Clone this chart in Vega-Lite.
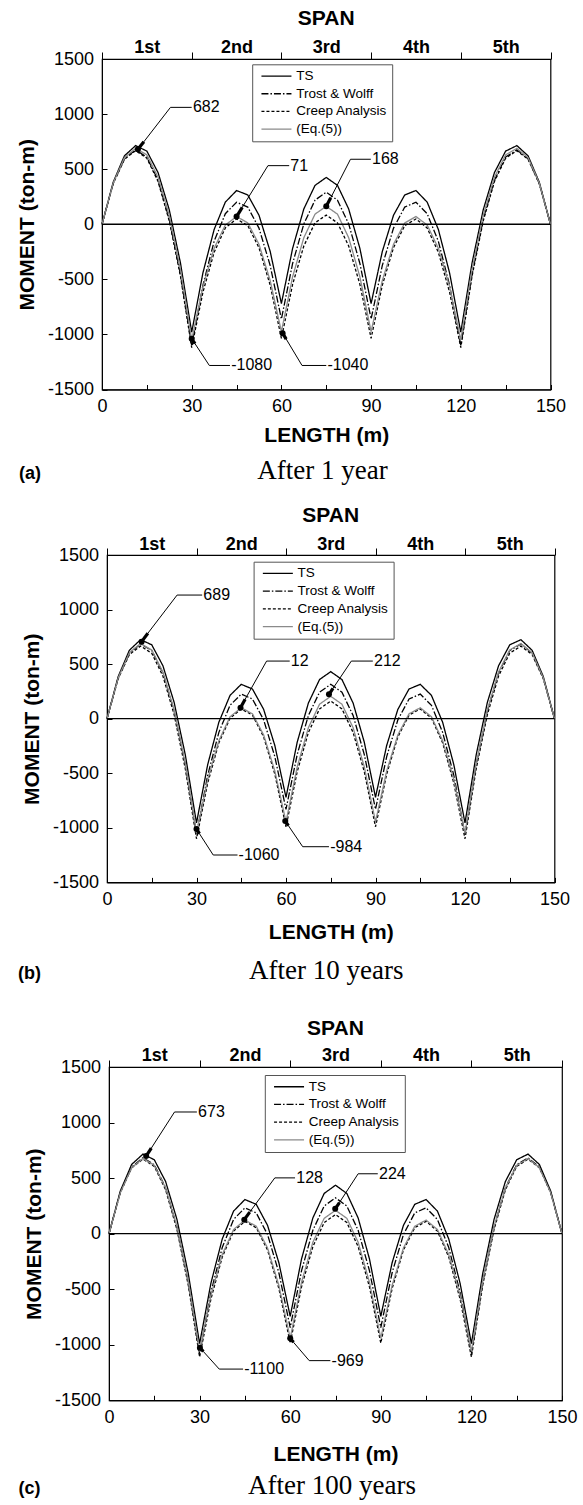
{
"$schema":"https://vega.github.io/schema/vega-lite/v6.json",
"padding":{"left":14,"top":7,"right":0,"bottom":0},
"background":"white",
"spacing":0,
"resolve":{"scale":{"color":"independent","strokeDash":"independent"},"legend":{"color":"independent","strokeDash":"independent"}},
"config":{
 "view":{"stroke":"black","strokeWidth":1.2},
 "axis":{"labelFont":"Liberation Sans","titleFont":"Liberation Sans","labelFontSize":18,"titleFontSize":21,"titleFontWeight":"bold","labelColor":"black","titleColor":"black","domainColor":"black","tickColor":"black","grid":false,"labelFlush":false,"labelOverlap":false,"domainWidth":1,"tickWidth":1},
 "title":{"font":"Liberation Sans","fontSize":21,"fontWeight":"bold","color":"black","anchor":"middle","orient":"top"},
 "legend":{"labelFont":"Liberation Sans","labelColor":"black"},
 "text":{"font":"Liberation Sans"}
},
"datasets":{
"a":[{"x":0,"TS":0,"TW":0,"CA":0,"EQ":0},{"x":3.75,"TS":382,"TW":370,"CA":368,"EQ":374},{"x":7.5,"TS":621,"TW":595,"CA":590,"EQ":604},{"x":11.25,"TS":714,"TW":675,"CA":668,"EQ":689},{"x":15,"TS":664,"TW":610,"CA":600,"EQ":630},{"x":18.75,"TS":469,"TW":400,"CA":388,"EQ":427},{"x":22.5,"TS":131,"TW":45,"CA":30,"EQ":79},{"x":26.25,"TS":-353,"TW":-455,"CA":-473,"EQ":-413},{"x":30,"TS":-980,"TW":-1100,"CA":-1120,"EQ":-1050},{"x":33.75,"TS":-442,"TW":-554,"CA":-617,"EQ":-567},{"x":37.5,"TS":-48,"TW":-155,"CA":-255,"EQ":-219},{"x":41.25,"TS":201,"TW":96,"CA":-33,"EQ":-7},{"x":45,"TS":306,"TW":200,"CA":48,"EQ":70},{"x":48.75,"TS":266,"TW":156,"CA":-12,"EQ":12},{"x":52.5,"TS":82,"TW":-35,"CA":-212,"EQ":-182},{"x":56.25,"TS":-247,"TW":-374,"CA":-553,"EQ":-511},{"x":60,"TS":-720,"TW":-860,"CA":-1035,"EQ":-975},{"x":63.75,"TS":-219,"TW":-356,"CA":-546,"EQ":-477},{"x":67.5,"TS":139,"TW":3,"CA":-197,"EQ":-122},{"x":71.25,"TS":353,"TW":219,"CA":13,"EQ":92},{"x":75,"TS":425,"TW":291,"CA":83,"EQ":163},{"x":78.75,"TS":353,"TW":219,"CA":13,"EQ":92},{"x":82.5,"TS":139,"TW":3,"CA":-197,"EQ":-122},{"x":86.25,"TS":-219,"TW":-356,"CA":-546,"EQ":-477},{"x":90,"TS":-720,"TW":-860,"CA":-1035,"EQ":-975},{"x":93.75,"TS":-247,"TW":-374,"CA":-553,"EQ":-511},{"x":97.5,"TS":82,"TW":-35,"CA":-212,"EQ":-182},{"x":101.25,"TS":266,"TW":156,"CA":-12,"EQ":12},{"x":105,"TS":306,"TW":200,"CA":48,"EQ":70},{"x":108.75,"TS":201,"TW":96,"CA":-33,"EQ":-7},{"x":112.5,"TS":-48,"TW":-155,"CA":-255,"EQ":-219},{"x":116.25,"TS":-442,"TW":-554,"CA":-617,"EQ":-567},{"x":120,"TS":-980,"TW":-1100,"CA":-1120,"EQ":-1050},{"x":123.75,"TS":-353,"TW":-455,"CA":-473,"EQ":-413},{"x":127.5,"TS":131,"TW":45,"CA":30,"EQ":79},{"x":131.25,"TS":469,"TW":400,"CA":388,"EQ":427},{"x":135,"TS":664,"TW":610,"CA":600,"EQ":630},{"x":138.75,"TS":714,"TW":675,"CA":668,"EQ":689},{"x":142.5,"TS":621,"TW":595,"CA":590,"EQ":604},{"x":146.25,"TS":382,"TW":370,"CA":368,"EQ":374},{"x":150,"TS":0,"TW":0,"CA":0,"EQ":0}],
"b":[{"x":0,"TS":0,"TW":0,"CA":0,"EQ":0},{"x":3.75,"TS":386,"TW":373,"CA":366,"EQ":374},{"x":7.5,"TS":627,"TW":601,"CA":588,"EQ":604},{"x":11.25,"TS":724,"TW":685,"CA":666,"EQ":689},{"x":15,"TS":677,"TW":625,"CA":600,"EQ":630},{"x":18.75,"TS":485,"TW":420,"CA":391,"EQ":427},{"x":22.5,"TS":150,"TW":71,"CA":38,"EQ":79},{"x":26.25,"TS":-331,"TW":-422,"CA":-459,"EQ":-413},{"x":30,"TS":-955,"TW":-1060,"CA":-1100,"EQ":-1050},{"x":33.75,"TS":-421,"TW":-519,"CA":-590,"EQ":-557},{"x":37.5,"TS":-32,"TW":-125,"CA":-221,"EQ":-201},{"x":41.25,"TS":214,"TW":123,"CA":5,"EQ":18},{"x":45,"TS":315,"TW":225,"CA":90,"EQ":100},{"x":48.75,"TS":272,"TW":181,"CA":33,"EQ":45},{"x":52.5,"TS":86,"TW":-10,"CA":-166,"EQ":-148},{"x":56.25,"TS":-245,"TW":-347,"CA":-507,"EQ":-478},{"x":60,"TS":-720,"TW":-830,"CA":-990,"EQ":-945},{"x":63.75,"TS":-216,"TW":-329,"CA":-486,"EQ":-442},{"x":67.5,"TS":143,"TW":29,"CA":-126,"EQ":-83},{"x":71.25,"TS":359,"TW":243,"CA":90,"EQ":133},{"x":75,"TS":431,"TW":315,"CA":162,"EQ":205},{"x":78.75,"TS":359,"TW":243,"CA":90,"EQ":133},{"x":82.5,"TS":143,"TW":29,"CA":-126,"EQ":-83},{"x":86.25,"TS":-216,"TW":-329,"CA":-486,"EQ":-442},{"x":90,"TS":-720,"TW":-830,"CA":-990,"EQ":-945},{"x":93.75,"TS":-245,"TW":-347,"CA":-507,"EQ":-478},{"x":97.5,"TS":86,"TW":-10,"CA":-166,"EQ":-148},{"x":101.25,"TS":272,"TW":181,"CA":33,"EQ":45},{"x":105,"TS":315,"TW":225,"CA":90,"EQ":100},{"x":108.75,"TS":214,"TW":123,"CA":5,"EQ":18},{"x":112.5,"TS":-32,"TW":-125,"CA":-221,"EQ":-201},{"x":116.25,"TS":-421,"TW":-519,"CA":-590,"EQ":-557},{"x":120,"TS":-955,"TW":-1060,"CA":-1100,"EQ":-1050},{"x":123.75,"TS":-331,"TW":-422,"CA":-459,"EQ":-413},{"x":127.5,"TS":150,"TW":71,"CA":38,"EQ":79},{"x":131.25,"TS":485,"TW":420,"CA":391,"EQ":427},{"x":135,"TS":677,"TW":625,"CA":600,"EQ":630},{"x":138.75,"TS":724,"TW":685,"CA":666,"EQ":689},{"x":142.5,"TS":627,"TW":601,"CA":588,"EQ":604},{"x":146.25,"TS":386,"TW":373,"CA":366,"EQ":374},{"x":150,"TS":0,"TW":0,"CA":0,"EQ":0}],
"c":[{"x":0,"TS":0,"TW":0,"CA":0,"EQ":0},{"x":3.75,"TS":384,"TW":373,"CA":369,"EQ":368},{"x":7.5,"TS":623,"TW":600,"CA":593,"EQ":594},{"x":11.25,"TS":716,"TW":683,"CA":671,"EQ":676},{"x":15,"TS":665,"TW":620,"CA":605,"EQ":615},{"x":18.75,"TS":469,"TW":413,"CA":394,"EQ":411},{"x":22.5,"TS":128,"TW":60,"CA":38,"EQ":64},{"x":26.25,"TS":-359,"TW":-438,"CA":-464,"EQ":-427},{"x":30,"TS":-990,"TW":-1080,"CA":-1110,"EQ":-1060},{"x":33.75,"TS":-446,"TW":-528,"CA":-588,"EQ":-554},{"x":37.5,"TS":-48,"TW":-125,"CA":-210,"EQ":-188},{"x":41.25,"TS":203,"TW":128,"CA":23,"EQ":37},{"x":45,"TS":307,"TW":232,"CA":111,"EQ":122},{"x":48.75,"TS":264,"TW":187,"CA":54,"EQ":67},{"x":52.5,"TS":75,"TW":-8,"CA":-147,"EQ":-129},{"x":56.25,"TS":-262,"TW":-352,"CA":-494,"EQ":-465},{"x":60,"TS":-745,"TW":-845,"CA":-985,"EQ":-942},{"x":63.75,"TS":-228,"TW":-334,"CA":-479,"EQ":-438},{"x":67.5,"TS":141,"TW":30,"CA":-117,"EQ":-78},{"x":71.25,"TS":362,"TW":249,"CA":100,"EQ":138},{"x":75,"TS":436,"TW":322,"CA":172,"EQ":210},{"x":78.75,"TS":362,"TW":249,"CA":100,"EQ":138},{"x":82.5,"TS":141,"TW":30,"CA":-117,"EQ":-78},{"x":86.25,"TS":-228,"TW":-334,"CA":-479,"EQ":-438},{"x":90,"TS":-745,"TW":-845,"CA":-985,"EQ":-942},{"x":93.75,"TS":-262,"TW":-352,"CA":-494,"EQ":-465},{"x":97.5,"TS":75,"TW":-8,"CA":-147,"EQ":-129},{"x":101.25,"TS":264,"TW":187,"CA":54,"EQ":67},{"x":105,"TS":307,"TW":232,"CA":111,"EQ":122},{"x":108.75,"TS":203,"TW":128,"CA":23,"EQ":37},{"x":112.5,"TS":-48,"TW":-125,"CA":-210,"EQ":-188},{"x":116.25,"TS":-446,"TW":-528,"CA":-588,"EQ":-554},{"x":120,"TS":-990,"TW":-1080,"CA":-1110,"EQ":-1060},{"x":123.75,"TS":-359,"TW":-438,"CA":-464,"EQ":-427},{"x":127.5,"TS":128,"TW":60,"CA":38,"EQ":64},{"x":131.25,"TS":469,"TW":413,"CA":394,"EQ":411},{"x":135,"TS":665,"TW":620,"CA":605,"EQ":615},{"x":138.75,"TS":716,"TW":683,"CA":671,"EQ":676},{"x":142.5,"TS":623,"TW":600,"CA":593,"EQ":594},{"x":146.25,"TS":384,"TW":373,"CA":369,"EQ":368},{"x":150,"TS":0,"TW":0,"CA":0,"EQ":0}],
"la":[{"k":"682","p":"dot","x":12,"m":680},{"k":"682","p":"head","x":14,"m":749},{"k":"682","p":"elbow","x":22.9,"m":1061},{"k":"682","p":"end","x":30,"m":1061},{"k":"682","p":"label","x":30.4,"m":1061},{"k":"71","p":"dot","x":45,"m":70},{"k":"71","p":"head","x":46.9,"m":153},{"k":"71","p":"elbow","x":55.5,"m":532},{"k":"71","p":"end","x":62.6,"m":532},{"k":"71","p":"label","x":63,"m":532},{"k":"168","p":"dot","x":75,"m":163},{"k":"168","p":"head","x":76.5,"m":240},{"k":"168","p":"elbow","x":83.1,"m":590},{"k":"168","p":"end","x":89.9,"m":590},{"k":"168","p":"label","x":90.3,"m":590},{"k":"-1080","p":"dot","x":30,"m":-1040},{"k":"-1080","p":"head","x":31.1,"m":-1084},{"k":"-1080","p":"elbow","x":35.9,"m":-1282},{"k":"-1080","p":"end","x":42.8,"m":-1282},{"k":"-1080","p":"label","x":43.2,"m":-1282},{"k":"-1040","p":"dot","x":60.4,"m":-989},{"k":"-1040","p":"head","x":61.6,"m":-1042},{"k":"-1040","p":"elbow","x":66.9,"m":-1282},{"k":"-1040","p":"end","x":75,"m":-1282},{"k":"-1040","p":"label","x":75.4,"m":-1282}],
"lb":[{"k":"689","p":"dot","x":11.6,"m":706},{"k":"689","p":"head","x":13.7,"m":783},{"k":"689","p":"elbow","x":23.5,"m":1133},{"k":"689","p":"end","x":31.9,"m":1133},{"k":"689","p":"label","x":32.3,"m":1133},{"k":"12","p":"dot","x":44.75,"m":101},{"k":"12","p":"head","x":46.3,"m":178},{"k":"12","p":"elbow","x":53.5,"m":528},{"k":"12","p":"end","x":61.25,"m":528},{"k":"12","p":"label","x":61.6,"m":528},{"k":"212","p":"dot","x":74.4,"m":223},{"k":"212","p":"head","x":75.75,"m":278},{"k":"212","p":"elbow","x":81.9,"m":528},{"k":"212","p":"end","x":89.1,"m":528},{"k":"212","p":"label","x":89.5,"m":528},{"k":"-1060","p":"dot","x":30,"m":-1011},{"k":"-1060","p":"head","x":31,"m":-1054},{"k":"-1060","p":"elbow","x":35.6,"m":-1249},{"k":"-1060","p":"end","x":43.75,"m":-1249},{"k":"-1060","p":"label","x":44.1,"m":-1249},{"k":"-984","p":"dot","x":59.75,"m":-938},{"k":"-984","p":"head","x":60.8,"m":-980},{"k":"-984","p":"elbow","x":65.6,"m":-1173},{"k":"-984","p":"end","x":74.4,"m":-1173},{"k":"-984","p":"label","x":74.8,"m":-1173}],
"lc":[{"k":"673","p":"dot","x":12.3,"m":698},{"k":"673","p":"head","x":14,"m":769},{"k":"673","p":"elbow","x":21.7,"m":1095},{"k":"673","p":"end","x":29.1,"m":1095},{"k":"673","p":"label","x":29.5,"m":1095},{"k":"128","p":"dot","x":44.8,"m":126},{"k":"128","p":"head","x":46.6,"m":194},{"k":"128","p":"elbow","x":54.9,"m":502},{"k":"128","p":"end","x":61.6,"m":502},{"k":"128","p":"label","x":62,"m":502},{"k":"224","p":"dot","x":74.9,"m":223},{"k":"224","p":"head","x":76.3,"m":280},{"k":"224","p":"elbow","x":82.5,"m":539},{"k":"224","p":"end","x":89,"m":539},{"k":"224","p":"label","x":89.4,"m":539},{"k":"-1100","p":"dot","x":30.1,"m":-1026},{"k":"-1100","p":"head","x":31.25,"m":-1061},{"k":"-1100","p":"elbow","x":36.5,"m":-1219},{"k":"-1100","p":"end","x":44.4,"m":-1219},{"k":"-1100","p":"label","x":44.8,"m":-1219},{"k":"-969","p":"dot","x":60,"m":-942},{"k":"-969","p":"head","x":61.1,"m":-978},{"k":"-969","p":"elbow","x":66.3,"m":-1143},{"k":"-969","p":"end","x":73.3,"m":-1143},{"k":"-969","p":"label","x":73.7,"m":-1143}],
"spans":[{"s":"1st","v":0},{"s":"2nd","v":0},{"s":"3rd","v":0},{"s":"4th","v":0},{"s":"5th","v":0}]
},
"vconcat":[
{"spacing":0,"resolve":{"scale":{"color":"independent","strokeDash":"independent"},"legend":{"color":"independent","strokeDash":"independent"}},"hconcat":[
{"width":1,"height":1,"data":{"values":[{}]},"mark":{"type":"rect","opacity":0},"view":{"stroke":null}},
{
 "width":448.5,"height":330.5,
 "title":{"text":"SPAN","offset":9.8},
 "layer":[
  {"layer":[
   {"data":{"name":"a"},"transform":[{"fold":["TS","TW","CA","EQ"],"as":["series","m"]}],
    "mark":{"type":"line","strokeWidth":1.3},
    "encoding":{
     "x":{"field":"x","type":"quantitative","scale":{"domain":[0,150],"nice":false,"zero":false},"axis":{"values":[0,15,30,45,60,75,90,105,120,135,150],"labelExpr":"datum.value % 30 == 0 ? '' + datum.value : ''","tickSize":-5,"labelPadding":13,"title":"LENGTH (m)","titlePadding":9}},
     "y":{"field":"m","type":"quantitative","scale":{"domain":[-1500,1500],"nice":false,"zero":false},"axis":{"values":[-1500,-1250,-1000,-750,-500,-250,0,250,500,750,1000,1250,1500],"labelExpr":"datum.value % 500 == 0 ? '' + datum.value : ''","tickSize":-5,"labelPadding":13.5,"title":"MOMENT (ton-m)","titlePadding":10}},
     "color":{"field":"series","type":"nominal","scale":{"domain":["TS","TW","CA","EQ"],"range":["#000000","#000000","#000000","#8a8a8a"]},"legend":{"orient":"none","legendX":150.2,"legendY":5.3,"title":null,"symbolType":"M-0.5,0H5.5","symbolSize":100,"symbolStrokeWidth":1.3,"labelFontSize":13.5,"labelOffset":25.5,"padding":5,"rowPadding":2.7,"strokeColor":"#555555","fillColor":"white","labelExpr":"datum.label == 'TS' ? 'TS' : datum.label == 'TW' ? 'Trost & Wolff' : datum.label == 'CA' ? 'Creep Analysis' : '(Eq.(5))'"}},
     "strokeDash":{"field":"series","type":"nominal","scale":{"domain":["TS","TW","CA","EQ"],"range":[[1,0],[7,2,1.5,2],[3,2],[1,0]]},"legend":{"orient":"none","legendX":150.2,"legendY":5.3,"title":null,"symbolType":"M-0.5,0H5.5","symbolSize":100,"symbolStrokeWidth":1.3,"labelFontSize":13.5,"labelOffset":25.5,"padding":5,"rowPadding":2.7,"strokeColor":"#555555","fillColor":"white","labelExpr":"datum.label == 'TS' ? 'TS' : datum.label == 'TW' ? 'Trost & Wolff' : datum.label == 'CA' ? 'Creep Analysis' : '(Eq.(5))'"}}
    }},
   {"data":{"values":[{"m":0}]},"mark":{"type":"rule","color":"black","strokeWidth":1.3},"encoding":{"y":{"field":"m","type":"quantitative"}}},
   {"data":{"name":"la"},"transform":[{"filter":"datum.p != 'label'"}],"mark":{"type":"line","color":"black","strokeWidth":1},"encoding":{"x":{"field":"x","type":"quantitative"},"y":{"field":"m","type":"quantitative"},"detail":{"field":"k","type":"nominal"}}},
   {"data":{"name":"la"},"transform":[{"filter":"datum.p == 'dot' || datum.p == 'head'"}],"mark":{"type":"line","color":"black","strokeWidth":3.2},"encoding":{"x":{"field":"x","type":"quantitative"},"y":{"field":"m","type":"quantitative"},"detail":{"field":"k","type":"nominal"}}},
   {"data":{"name":"la"},"transform":[{"filter":"datum.p == 'dot'"}],"mark":{"type":"point","filled":true,"color":"black","opacity":1,"size":36},"encoding":{"x":{"field":"x","type":"quantitative"},"y":{"field":"m","type":"quantitative"}}},
   {"data":{"name":"la"},"transform":[{"filter":"datum.p == 'label'"}],"mark":{"type":"text","align":"left","baseline":"middle","fontSize":16,"color":"black"},"encoding":{"x":{"field":"x","type":"quantitative"},"y":{"field":"m","type":"quantitative"},"text":{"field":"k","type":"nominal"}}}
  ]},
  {"data":{"name":"spans"},"mark":{"type":"tick","opacity":0},
   "encoding":{
    "x":{"field":"s","type":"nominal","sort":null,"scale":{"type":"band","paddingInner":0,"paddingOuter":0},"axis":{"orient":"top","labelAngle":0,"labelFontSize":18,"labelFontWeight":"bold","labelPadding":-4.5,"tickSize":7,"tickBand":"extent","domain":false,"title":"After 1 year","titleX":220,"titleY":419.3,"titleAngle":0,"titleAlign":"center","titleBaseline":"alphabetic","titleFont":"Liberation Serif","titleFontSize":27,"titleFontWeight":"normal"}},
    "y":{"field":"v","type":"quantitative","scale":{"domain":[0,1]},"axis":{"orient":"right","labels":false,"ticks":false,"domain":false,"title":"(a)","titleX":-532,"titleY":419.3,"titleAngle":0,"titleAlign":"left","titleBaseline":"alphabetic","titleFontSize":18,"titleFontWeight":"bold"}}
   }}
 ],
 "resolve":{"scale":{"x":"independent","y":"independent"}}
}]},
{"width":1,"height":19.2,"data":{"values":[{}]},"mark":{"type":"rect","opacity":0},"view":{"stroke":null}},
{"spacing":0,"resolve":{"scale":{"color":"independent","strokeDash":"independent"},"legend":{"color":"independent","strokeDash":"independent"}},"hconcat":[
{"width":2,"height":1,"data":{"values":[{}]},"mark":{"type":"rect","opacity":0},"view":{"stroke":null}},
{
 "width":447.5,"height":327.4,
 "title":{"text":"SPAN","offset":9.9},
 "layer":[
  {"layer":[
   {"data":{"name":"b"},"transform":[{"fold":["TS","TW","CA","EQ"],"as":["series","m"]}],
    "mark":{"type":"line","strokeWidth":1.3},
    "encoding":{
     "x":{"field":"x","type":"quantitative","scale":{"domain":[0,150],"nice":false,"zero":false},"axis":{"values":[0,15,30,45,60,75,90,105,120,135,150],"labelExpr":"datum.value % 30 == 0 ? '' + datum.value : ''","tickSize":-5,"labelPadding":13,"title":"LENGTH (m)","titlePadding":12.7}},
     "y":{"field":"m","type":"quantitative","scale":{"domain":[-1500,1500],"nice":false,"zero":false},"axis":{"values":[-1500,-1250,-1000,-750,-500,-250,0,250,500,750,1000,1250,1500],"labelExpr":"datum.value % 500 == 0 ? '' + datum.value : ''","tickSize":-5,"labelPadding":13.5,"title":"MOMENT (ton-m)","titlePadding":10}},
     "color":{"field":"series","type":"nominal","scale":{"domain":["TS","TW","CA","EQ"],"range":["#000000","#000000","#000000","#8a8a8a"]},"legend":{"orient":"none","legendX":146.6,"legendY":6.7,"title":null,"symbolType":"M-0.5,0H5.5","symbolSize":100,"symbolStrokeWidth":1.3,"labelFontSize":13.5,"labelOffset":25.5,"padding":5,"rowPadding":2.7,"strokeColor":"#555555","fillColor":"white","labelExpr":"datum.label == 'TS' ? 'TS' : datum.label == 'TW' ? 'Trost & Wolff' : datum.label == 'CA' ? 'Creep Analysis' : '(Eq.(5))'"}},
     "strokeDash":{"field":"series","type":"nominal","scale":{"domain":["TS","TW","CA","EQ"],"range":[[1,0],[7,2,1.5,2],[3,2],[1,0]]},"legend":{"orient":"none","legendX":146.6,"legendY":6.7,"title":null,"symbolType":"M-0.5,0H5.5","symbolSize":100,"symbolStrokeWidth":1.3,"labelFontSize":13.5,"labelOffset":25.5,"padding":5,"rowPadding":2.7,"strokeColor":"#555555","fillColor":"white","labelExpr":"datum.label == 'TS' ? 'TS' : datum.label == 'TW' ? 'Trost & Wolff' : datum.label == 'CA' ? 'Creep Analysis' : '(Eq.(5))'"}}
    }},
   {"data":{"values":[{"m":0}]},"mark":{"type":"rule","color":"black","strokeWidth":1.3},"encoding":{"y":{"field":"m","type":"quantitative"}}},
   {"data":{"name":"lb"},"transform":[{"filter":"datum.p != 'label'"}],"mark":{"type":"line","color":"black","strokeWidth":1},"encoding":{"x":{"field":"x","type":"quantitative"},"y":{"field":"m","type":"quantitative"},"detail":{"field":"k","type":"nominal"}}},
   {"data":{"name":"lb"},"transform":[{"filter":"datum.p == 'dot' || datum.p == 'head'"}],"mark":{"type":"line","color":"black","strokeWidth":3.2},"encoding":{"x":{"field":"x","type":"quantitative"},"y":{"field":"m","type":"quantitative"},"detail":{"field":"k","type":"nominal"}}},
   {"data":{"name":"lb"},"transform":[{"filter":"datum.p == 'dot'"}],"mark":{"type":"point","filled":true,"color":"black","opacity":1,"size":36},"encoding":{"x":{"field":"x","type":"quantitative"},"y":{"field":"m","type":"quantitative"}}},
   {"data":{"name":"lb"},"transform":[{"filter":"datum.p == 'label'"}],"mark":{"type":"text","align":"left","baseline":"middle","fontSize":16,"color":"black"},"encoding":{"x":{"field":"x","type":"quantitative"},"y":{"field":"m","type":"quantitative"},"text":{"field":"k","type":"nominal"}}}
  ]},
  {"data":{"name":"spans"},"mark":{"type":"tick","opacity":0},
   "encoding":{
    "x":{"field":"s","type":"nominal","sort":null,"scale":{"type":"band","paddingInner":0,"paddingOuter":0},"axis":{"orient":"top","labelAngle":0,"labelFontSize":18,"labelFontWeight":"bold","labelPadding":-5.8,"tickSize":7,"tickBand":"extent","domain":false,"title":"After 10 years","titleX":218.75,"titleY":423.4,"titleAngle":0,"titleAlign":"center","titleBaseline":"alphabetic","titleFont":"Liberation Serif","titleFontSize":27,"titleFontWeight":"normal"}},
    "y":{"field":"v","type":"quantitative","scale":{"domain":[0,1]},"axis":{"orient":"right","labels":false,"ticks":false,"domain":false,"title":"(b)","titleX":-537,"titleY":423.4,"titleAngle":0,"titleAlign":"left","titleBaseline":"alphabetic","titleFontSize":18,"titleFontWeight":"bold"}}
   }}
 ],
 "resolve":{"scale":{"x":"independent","y":"independent"}}
}]},
{"width":1,"height":32.4,"data":{"values":[{}]},"mark":{"type":"rect","opacity":0},"view":{"stroke":null}},
{"spacing":0,"resolve":{"scale":{"color":"independent","strokeDash":"independent"},"legend":{"color":"independent","strokeDash":"independent"}},"hconcat":[
{"width":3,"height":1,"data":{"values":[{}]},"mark":{"type":"rect","opacity":0},"view":{"stroke":null}},
{
 "width":453,"height":333.3,
 "title":{"text":"SPAN","offset":7.7},
 "layer":[
  {"layer":[
   {"data":{"name":"c"},"transform":[{"fold":["TS","TW","CA","EQ"],"as":["series","m"]}],
    "mark":{"type":"line","strokeWidth":1.3},
    "encoding":{
     "x":{"field":"x","type":"quantitative","scale":{"domain":[0,150],"nice":false,"zero":false},"axis":{"values":[0,15,30,45,60,75,90,105,120,135,150],"labelExpr":"datum.value % 30 == 0 ? '' + datum.value : ''","tickSize":-5,"labelPadding":13,"title":"LENGTH (m)","titlePadding":16.7}},
     "y":{"field":"m","type":"quantitative","scale":{"domain":[-1500,1500],"nice":false,"zero":false},"axis":{"values":[-1500,-1250,-1000,-750,-500,-250,0,250,500,750,1000,1250,1500],"labelExpr":"datum.value % 500 == 0 ? '' + datum.value : ''","tickSize":-5,"labelPadding":13.5,"title":"MOMENT (ton-m)","titlePadding":10}},
     "color":{"field":"series","type":"nominal","scale":{"domain":["TS","TW","CA","EQ"],"range":["#000000","#000000","#000000","#8a8a8a"]},"legend":{"orient":"none","legendX":155.8,"legendY":8,"title":null,"symbolType":"M-0.5,0H5.5","symbolSize":100,"symbolStrokeWidth":1.3,"labelFontSize":13.5,"labelOffset":25.5,"padding":5,"rowPadding":2.7,"strokeColor":"#555555","fillColor":"white","labelExpr":"datum.label == 'TS' ? 'TS' : datum.label == 'TW' ? 'Trost & Wolff' : datum.label == 'CA' ? 'Creep Analysis' : '(Eq.(5))'"}},
     "strokeDash":{"field":"series","type":"nominal","scale":{"domain":["TS","TW","CA","EQ"],"range":[[1,0],[7,2,1.5,2],[3,2],[1,0]]},"legend":{"orient":"none","legendX":155.8,"legendY":8,"title":null,"symbolType":"M-0.5,0H5.5","symbolSize":100,"symbolStrokeWidth":1.3,"labelFontSize":13.5,"labelOffset":25.5,"padding":5,"rowPadding":2.7,"strokeColor":"#555555","fillColor":"white","labelExpr":"datum.label == 'TS' ? 'TS' : datum.label == 'TW' ? 'Trost & Wolff' : datum.label == 'CA' ? 'Creep Analysis' : '(Eq.(5))'"}}
    }},
   {"data":{"values":[{"m":0}]},"mark":{"type":"rule","color":"black","strokeWidth":1.3},"encoding":{"y":{"field":"m","type":"quantitative"}}},
   {"data":{"name":"lc"},"transform":[{"filter":"datum.p != 'label'"}],"mark":{"type":"line","color":"black","strokeWidth":1},"encoding":{"x":{"field":"x","type":"quantitative"},"y":{"field":"m","type":"quantitative"},"detail":{"field":"k","type":"nominal"}}},
   {"data":{"name":"lc"},"transform":[{"filter":"datum.p == 'dot' || datum.p == 'head'"}],"mark":{"type":"line","color":"black","strokeWidth":3.2},"encoding":{"x":{"field":"x","type":"quantitative"},"y":{"field":"m","type":"quantitative"},"detail":{"field":"k","type":"nominal"}}},
   {"data":{"name":"lc"},"transform":[{"filter":"datum.p == 'dot'"}],"mark":{"type":"point","filled":true,"color":"black","opacity":1,"size":36},"encoding":{"x":{"field":"x","type":"quantitative"},"y":{"field":"m","type":"quantitative"}}},
   {"data":{"name":"lc"},"transform":[{"filter":"datum.p == 'label'"}],"mark":{"type":"text","align":"left","baseline":"middle","fontSize":16,"color":"black"},"encoding":{"x":{"field":"x","type":"quantitative"},"y":{"field":"m","type":"quantitative"},"text":{"field":"k","type":"nominal"}}}
  ]},
  {"data":{"name":"spans"},"mark":{"type":"tick","opacity":0},
   "encoding":{
    "x":{"field":"s","type":"nominal","sort":null,"scale":{"type":"band","paddingInner":0,"paddingOuter":0},"axis":{"orient":"top","labelAngle":0,"labelFontSize":18,"labelFontWeight":"bold","labelPadding":-4.8,"tickSize":7,"tickBand":"extent","domain":false,"title":"After 100 years","titleX":222.5,"titleY":426.6,"titleAngle":0,"titleAlign":"center","titleBaseline":"alphabetic","titleFont":"Liberation Serif","titleFontSize":27,"titleFontWeight":"normal"}},
    "y":{"field":"v","type":"quantitative","scale":{"domain":[0,1]},"axis":{"orient":"right","labels":false,"ticks":false,"domain":false,"title":"(c)","titleX":-544,"titleY":426.6,"titleAngle":0,"titleAlign":"left","titleBaseline":"alphabetic","titleFontSize":18,"titleFontWeight":"bold"}}
   }}
 ],
 "resolve":{"scale":{"x":"independent","y":"independent"}}
}]}
]
}
